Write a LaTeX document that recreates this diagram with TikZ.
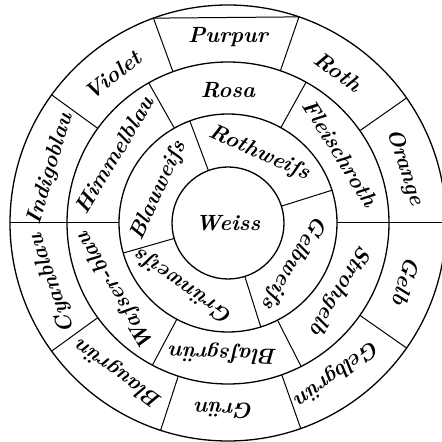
\documentclass[tikz,border=0pt]{standalone}
\usepackage{fontspec}
\newcommand{\wheelfont}{\fontsize{22}{24}\selectfont\bfseries\itshape}
\tikzset{
  ring/.style={draw,line width=1.3pt},
  spoke/.style={draw,line width=1pt},
  centre/.style={font=\wheelfont,inner sep=0pt},
  colour/.style={font=\wheelfont,inner sep=0pt,anchor=base}
}

\begin{document}
\begin{tikzpicture}[x=1pt,y=1pt]
\useasboundingbox (0,0) rectangle (442,442);
\begin{scope}[shift={(228,219)}]
\draw[ring] (0,0) circle[radius=56];
\draw[ring] (0,0) circle[radius=109];
\draw[ring] (0,0) circle[radius=161];
\draw[ring] (0,0) circle[radius=218];
\node[centre] (weiss) at (0,0) {Weiss};
\foreach \a in {110.5,17.5,-72.5,-164}
  \draw[spoke] (\a:56) -- (\a:109);
\foreach \a in {119.5,61,-63,-118}
  \draw[spoke] (\a:109) -- (\a:161);
\foreach \a in {0,180}
  \draw[spoke] (\a:109) -- (\a:218);
\foreach \a in {110,71,35,-35,-70.5,-108,-144,144}
  \draw[spoke] (\a:161) -- (\a:218);
\draw[spoke] (110:218) -- (71:218);
\foreach \a/\t [count=\i] in {66/Rothweiſs,-31/Gelbweiſs,-125/Grünweiſs,155/Blauweiſs}
  \node[colour,rotate=\a-90] (inner\i) at (\a:71) {\t};
\foreach \a/\t [count=\i] in {90/Rosa,32/Fleischroth,-31/Strohgelb,-92/Blaſsgrün,-149/Waſser-blau,149/Himmelblau}
  \node[colour,rotate=\a-90] (middle\i) at (\a:125) {\t};
\foreach \a/\t [count=\i] in {90/Purpur,54/Roth,17.5/Orange,-18/Gelb,-54/Gelbgrün,-91/Grün,-126/Blaugrün,-161/Cyanblau,163/Indigoblau,128/Violet}
  \node[colour,rotate=\a-90] (outer\i) at (\a:180) {\t};
\end{scope}
\end{tikzpicture}
\end{document}
